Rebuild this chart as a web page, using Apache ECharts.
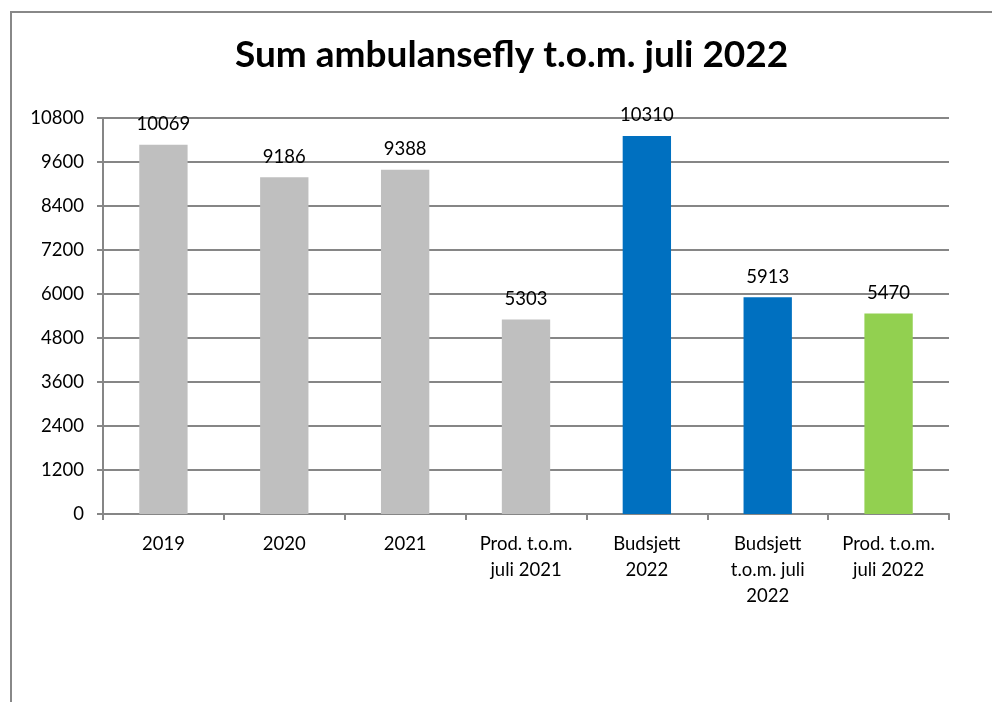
<!DOCTYPE html>
<html><head><meta charset="utf-8">
<script src="https://cdn.jsdelivr.net/npm/echarts@6/dist/echarts.min.js"></script>
<style>html,body{margin:0;padding:0;background:#fff}#c{width:992px;height:702px}</style>
</head><body><div id="c"></div>
<script>
var categories = ['2019','2020','2021','Prod. t.o.m.\njuli 2021','Budsjett\n2022','Budsjett\nt.o.m. juli\n2022','Prod. t.o.m.\njuli 2022'];
var values = [10069, 9186, 9388, 5303, 10310, 5913, 5470];
var barColors = ['#BFBFBF','#BFBFBF','#BFBFBF','#BFBFBF','#0070C0','#0070C0','#92D050'];
var yTicks = [0,1200,2400,3600,4800,6000,7200,8400,9600,10800];
var FONT = 'Lato, "Open Sans", sans-serif';
var chart = echarts.init(document.getElementById('c'));
chart.setOption({
  animation: false,
  backgroundColor: '#fff',
  graphic: [
    {type:'polyline', shape:{points:[[11,702],[11,12],[992,12]]}, style:{fill:'none', stroke:'#888', lineWidth:2}, silent:true}
  ],
  title: {text: 'Sum ambulansefly t.o.m. juli 2022', left: 230, top: 32, textStyle:{fontFamily: FONT, fontWeight:'bold', fontSize: 37, color:'#000'}},
  grid: {left: 103, top: 118, width: 846, height: 396, containLabel:false},
  xAxis: {type:'category', data: categories,
    axisLine:{lineStyle:{color:'#868686', width:2}},
    axisTick:{show:true, alignWithLabel:false, length:6, lineStyle:{color:'#868686', width:2}},
    axisLabel:{fontFamily: FONT, fontSize: 18.5, color:'#000', margin: 17, lineHeight: 26, interval:0}},
  yAxis: {type:'value', min: 0, max: 10800, interval: 1200,
    axisLine:{show:true, lineStyle:{color:'#868686', width:2}},
    axisTick:{show:true, length:6, lineStyle:{color:'#868686', width:2}},
    splitLine:{lineStyle:{color:'#868686', width:2}},
    axisLabel:{fontFamily: FONT, fontSize: 18.5, color:'#000', margin: 19,
      formatter: function(v){ return yTicks.indexOf(v) >= 0 ? String(v) : ''; }}},
  series: [{type:'bar', barWidth: '40%',
    data: values.map(function(v,i){return {value:v, itemStyle:{color: barColors[i]}};}),
    label:{show:true, position:'top', distance: 11, fontFamily: FONT, fontSize: 18.5, color:'#000'}}]
});
</script></body></html>
